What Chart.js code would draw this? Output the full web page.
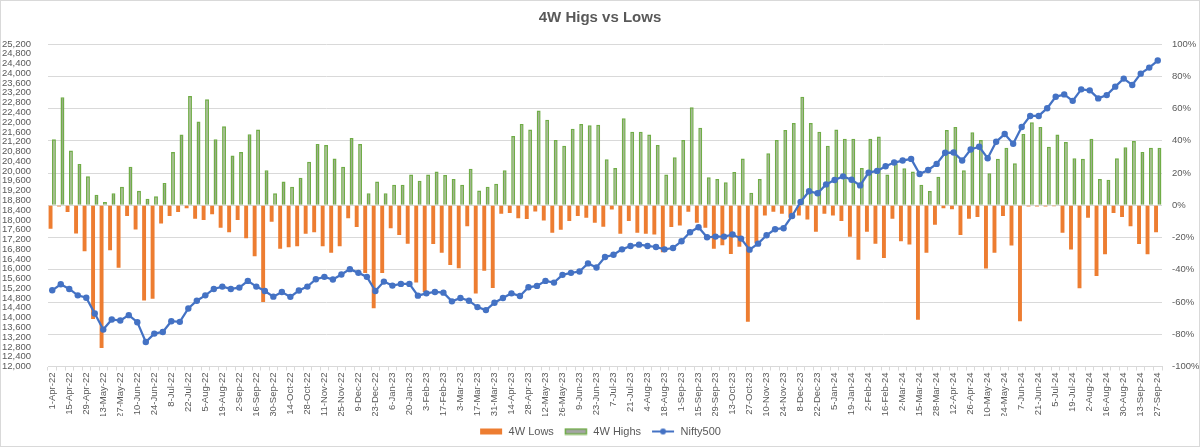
<!DOCTYPE html>
<html>
<head>
<meta charset="utf-8">
<title>4W Higs vs Lows</title>
<script src="https://cdn.jsdelivr.net/npm/chart.js@4.4.1/dist/chart.umd.min.js"></script>
<style>
  html, body { margin: 0; padding: 0; background: #fff; }
  #wrap { width: 1200px; height: 447px; }
</style>
</head>
<body>
<div id="wrap"><canvas id="chart" width="1200" height="447"></canvas></div>
<script>
// weekly dates, only every other one is printed on the axis
const weeks = [
  '1-Apr-22','8-Apr-22','15-Apr-22','22-Apr-22','29-Apr-22','6-May-22','13-May-22','20-May-22','27-May-22','3-Jun-22',
  '10-Jun-22','17-Jun-22','24-Jun-22','1-Jul-22','8-Jul-22','15-Jul-22','22-Jul-22','29-Jul-22','5-Aug-22','12-Aug-22',
  '19-Aug-22','26-Aug-22','2-Sep-22','9-Sep-22','16-Sep-22','23-Sep-22','30-Sep-22','7-Oct-22','14-Oct-22','21-Oct-22',
  '28-Oct-22','4-Nov-22','11-Nov-22','18-Nov-22','25-Nov-22','2-Dec-22','9-Dec-22','16-Dec-22','23-Dec-22','30-Dec-22',
  '6-Jan-23','13-Jan-23','20-Jan-23','27-Jan-23','3-Feb-23','10-Feb-23','17-Feb-23','24-Feb-23','3-Mar-23','10-Mar-23',
  '17-Mar-23','24-Mar-23','31-Mar-23','7-Apr-23','14-Apr-23','21-Apr-23','28-Apr-23','5-May-23','12-May-23','19-May-23',
  '26-May-23','2-Jun-23','9-Jun-23','16-Jun-23','23-Jun-23','30-Jun-23','7-Jul-23','14-Jul-23','21-Jul-23','28-Jul-23',
  '4-Aug-23','11-Aug-23','18-Aug-23','25-Aug-23','1-Sep-23','8-Sep-23','15-Sep-23','22-Sep-23','29-Sep-23','6-Oct-23',
  '13-Oct-23','20-Oct-23','27-Oct-23','3-Nov-23','10-Nov-23','17-Nov-23','24-Nov-23','1-Dec-23','8-Dec-23','15-Dec-23',
  '22-Dec-23','29-Dec-23','5-Jan-24','12-Jan-24','19-Jan-24','26-Jan-24','2-Feb-24','9-Feb-24','16-Feb-24','23-Feb-24',
  '2-Mar-24','8-Mar-24','15-Mar-24','22-Mar-24','28-Mar-24','5-Apr-24','12-Apr-24','19-Apr-24','26-Apr-24','3-May-24',
  '10-May-24','17-May-24','24-May-24','31-May-24','7-Jun-24','14-Jun-24','21-Jun-24','28-Jun-24','5-Jul-24','12-Jul-24',
  '19-Jul-24','26-Jul-24','2-Aug-24','9-Aug-24','16-Aug-24','23-Aug-24','30-Aug-24','6-Sep-24','13-Sep-24','20-Sep-24',
  '27-Sep-24'
];

// % of stocks at 4-week lows (right axis)
const lows = [
  -14.6,-0.8,-4.2,-17.5,-28.5,-70.6,-88.5,-27.9,-38.8,-6.7,
  -15,-59,-58,-11.3,-6.7,-4.2,-1.9,-8.3,-9.2,-5.6,
  -14,-16.7,-9.2,-20.4,-31.7,-60,-10.2,-26.9,-26,-25.4,
  -17.7,-16.7,-25.4,-29.4,-25.4,-8.1,-13.5,-42,-63.8,-42,
  -14.2,-18.5,-23.8,-47.9,-53.8,-24,-29.4,-37,-39,-13.1,
  -54.8,-40.6,-51.3,-5.2,-4.8,-8.1,-8.5,-3.8,-9.4,-17,
  -15.2,-9.8,-6.7,-7.7,-10.8,-13.3,-2.7,-17.7,-9.8,-17,
  -17.7,-18.1,-29.2,-13.5,-12.5,-4,-10.8,-14,-26.9,-24.8,
  -30.2,-25.8,-72.3,-23.5,-6.3,-4,-5.2,-7.7,-6.3,-8.8,
  -16.5,-5.2,-6.3,-9.8,-19.6,-33.8,-16.5,-23.8,-32.7,-8.3,
  -22.3,-24.4,-71,-29.4,-12.1,-1.9,-2.5,-18.5,-8.3,-7.3,
  -39.2,-29.4,-6.7,-25,-72,-0.8,-0.8,-0.8,-0.6,-17,
  -27.5,-51.5,-7.7,-43.8,-30.4,-4.8,-7.3,-13.1,-24,-30.4,
  -16.7
];

// % of stocks at 4-week highs (right axis)
const highs = [
  41,67,34,25.6,18,6.5,2,7.5,11.5,23.8,
  9,4,5.6,13.8,33,43.8,67.7,52,65.8,41,
  49,30.8,33,44,47,21.7,7.5,14.8,11.5,17,
  27,38,37.3,29,23.8,41.7,38,7.5,14.8,7.5,
  12.7,12.7,19,15.2,19,21,18.8,16.3,12.7,22.7,
  9.2,11.5,13.3,21.7,43,50.4,47,58.8,53,40.4,
  36.9,47.5,50.4,49.6,50,28.5,23.1,54,45.6,45.6,
  43.8,37.3,19,29.8,40.4,60.8,48,17.3,16.3,14.2,
  20.6,29,7.7,16.3,32.3,40.4,46.7,51,67.3,51,
  45.6,36.9,47,41.3,41.3,23.1,41.3,42.7,19,26,
  23,21,12.7,8.8,17.7,46.7,48.5,21.7,45.2,40.4,
  19.8,28.8,35.6,26,44.2,51.5,48.5,36.3,43.8,39.2,
  29.2,28.8,41.3,16.3,15.8,29.2,36,39.8,33,35.6,
  35.6
];

// Nifty500 index level (left axis)
const nifty500 = [
  15119,15366,15174,14913,14817,14171,13511,13924,13882,14102,
  13814,13003,13347,13415,13855,13827,14377,14693,14913,15174,
  15270,15174,15229,15504,15270,15092,14858,15050,14850,15110,
  15270,15572,15669,15559,15765,15985,15833,15669,15092,15476,
  15311,15380,15380,14899,14995,15050,15023,14666,14803,14693,
  14432,14308,14611,14803,14995,14885,15243,15298,15504,15435,
  15751,15833,15888,16220,16053,16479,16575,16795,16933,16988,
  16933,16891,16795,16850,17125,17496,17702,17290,17317,17317,
  17400,17235,16782,17029,17372,17620,17661,18160,18736,19170,
  19090,19453,19634,19783,19646,19412,19935,20005,20195,20347,
  20429,20498,19880,20045,20292,20746,20759,20429,20883,20994,
  20525,21200,21514,21118,21802,22256,22256,22573,23039,23138,
  22874,23344,23303,22973,23109,23454,23783,23522,23987,24234,
  24523
];

const ORANGE = '#ed7d31';
const GREEN = '#70ad47';
const GREY = '#a5a5a5';
const BLUE = '#4472c4';
const TEXT = '#595959';
const GRID = '#d9d9d9';
const FONT = "'Liberation Sans', Arial, sans-serif";

// legend markers drawn like Excel's
function swatch(kind) {
  const c = document.createElement('canvas');
  c.width = 24; c.height = 8;
  const g = c.getContext('2d');
  if (kind === 'lows') {
    g.fillStyle = ORANGE;
    g.fillRect(1, 1, 22, 6);
  } else if (kind === 'highs') {
    g.fillStyle = GREY;
    g.fillRect(1, 1, 22, 6);
    g.strokeStyle = GREEN;
    g.lineWidth = 1.5;
    g.strokeRect(1.5, 1.5, 21, 5);
  } else {
    g.strokeStyle = BLUE;
    g.lineWidth = 2;
    g.beginPath(); g.moveTo(1, 4); g.lineTo(23, 4); g.stroke();
    g.fillStyle = BLUE;
    g.beginPath(); g.arc(12, 4, 3, 0, Math.PI * 2); g.fill();
  }
  return c;
}
const swatches = [swatch('lows'), swatch('highs'), swatch('line')];

const frame = {
  id: 'frame',
  afterDraw(chart) {
    const ctx = chart.ctx;
    ctx.save();
    ctx.strokeStyle = GRID;
    ctx.lineWidth = 1;
    ctx.strokeRect(0.5, 0.5, chart.width - 1, chart.height - 1);
    ctx.restore();
  }
};

const ctx = document.querySelector('#chart').getContext('2d');
new Chart(ctx, {
  type: 'bar',
  data: {
    labels: weeks,
    datasets: [
      {
        label: '4W Lows',
        data: lows,
        yAxisID: 'y1',
        order: 1,
        backgroundColor: ORANGE,
        borderWidth: 0,
        categoryPercentage: 0.8,
        barPercentage: 1.15
      },
      {
        label: '4W Highs',
        data: highs,
        yAxisID: 'y1',
        order: 2,
        backgroundColor: '#93a680',
        borderColor: GREEN,
        borderWidth: 1.5,
        categoryPercentage: 0.8,
        barPercentage: 1.15
      },
      {
        type: 'line',
        label: 'Nifty500',
        data: nifty500,
        yAxisID: 'y',
        order: 0,
        borderColor: BLUE,
        backgroundColor: BLUE,
        borderWidth: 2.25,
        pointRadius: 3.2,
        pointBorderWidth: 0,
        pointBackgroundColor: BLUE,
        tension: 0
      }
    ]
  },
  options: {
    responsive: false,
    animation: false,
    devicePixelRatio: 1,
    layout: { padding: { left: 0, right: 0, top: 0, bottom: 0 } },
    plugins: {
      title: {
        display: true,
        text: '4W Higs vs Lows',
        color: TEXT,
        font: { family: FONT, size: 15, weight: 'bold' },
        padding: { top: 9, bottom: 17 }
      },
      legend: {
        position: 'bottom',
        labels: {
          color: TEXT,
          font: { family: FONT, size: 11 },
          usePointStyle: true,
          pointStyleWidth: 24,
          boxHeight: 8,
          padding: 10,
          generateLabels(chart) {
            const items = Chart.defaults.plugins.legend.labels.generateLabels(chart);
            items.sort((a, b) => a.datasetIndex - b.datasetIndex);
            items.forEach(it => { it.pointStyle = swatches[it.datasetIndex]; });
            return items;
          }
        }
      },
      tooltip: { enabled: false }
    },
    scales: {
      x: {
        offset: true,
        grid: { display: true, drawOnChartArea: false, offset: true, color: GRID, tickLength: 4 },
        border: { display: true, color: GRID },
        ticks: {
          autoSkip: false,
          minRotation: 90,
          maxRotation: 90,
          padding: 2,
          color: TEXT,
          font: { family: FONT, size: 9.5 },
          callback: (v, i) => (i % 2 === 0 ? weeks[i] : '')
        },
        afterFit(scale) { scale.height = 49.5; }
      },
      y: {
        position: 'left',
        min: 12000,
        max: 25200,
        grid: { display: false },
        border: { display: false },
        ticks: {
          stepSize: 400,
          autoSkip: false,
          padding: 9,
          color: TEXT,
          font: { family: FONT, size: 9.5 },
          callback: v => v.toLocaleString('en-US')
        },
        afterFit(scale) { scale.width = 48; }
      },
      y1: {
        position: 'right',
        min: -100,
        max: 100,
        grid: { color: GRID, drawTicks: false },
        border: { display: false },
        ticks: {
          stepSize: 20,
          padding: 10,
          color: TEXT,
          font: { family: FONT, size: 9.5 },
          callback: v => Math.round(v) + '%'
        },
        afterFit(scale) { scale.width = 38; }
      }
    }
  },
  plugins: [frame]
});
</script>
</body>
</html>
